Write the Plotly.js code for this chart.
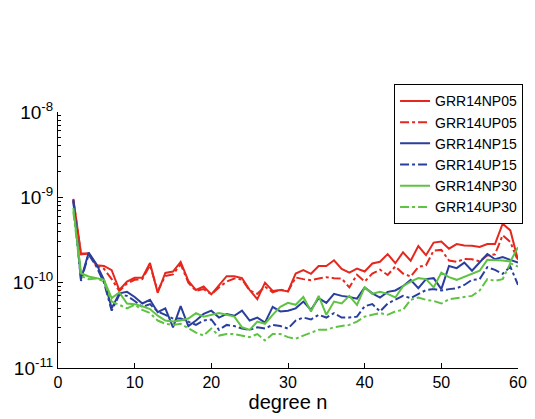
<!DOCTYPE html>
<html>
<head>
<meta charset="utf-8">
<script src="https://cdn.plot.ly/plotly-3.0.1.min.js"></script>
<style>html,body{margin:0;padding:0;background:#fff;}#chart{width:535px;height:419px;}</style>
</head>
<body>
<div id="chart"></div>
<script>
// degree n
const degrees = [2,3,4,5,6,7,8,9,10,11,12,13,14,15,16,17,18,19,20,21,22,23,24,25,26,27,28,29,30,31,32,33,34,35,36,37,38,39,40,41,42,43,44,45,46,47,48,49,50,51,52,53,54,55,56,57,58,59,60];

const GRR14NP05 = [9.6e-10,2.2e-10,2.2e-10,1.6e-10,1.57e-10,1.4e-10,0.82e-10,1.03e-10,1.14e-10,1.14e-10,1.7e-10,0.76e-10,1.3e-10,1.35e-10,1.75e-10,1.05e-10,0.82e-10,0.9e-10,0.73e-10,0.94e-10,1.19e-10,1.19e-10,1.13e-10,0.82e-10,0.64e-10,1.0e-10,0.8e-10,0.82e-10,0.79e-10,1.28e-10,1.4e-10,1.27e-10,1.57e-10,1.57e-10,1.83e-10,1.45e-10,1.31e-10,1.46e-10,1.35e-10,1.68e-10,1.76e-10,2.16e-10,1.69e-10,2.27e-10,1.81e-10,2.68e-10,2.1e-10,2.95e-10,3.04e-10,2.5e-10,2.83e-10,2.72e-10,2.7e-10,2.62e-10,2.83e-10,2.83e-10,4.9e-10,4.1e-10,1.85e-10];

const GRR14UP05 = [9.3e-10,2.15e-10,2.2e-10,1.6e-10,1.45e-10,1.1e-10,0.8e-10,0.98e-10,1.08e-10,1.1e-10,1.6e-10,0.8e-10,1.2e-10,1.25e-10,1.65e-10,1.0e-10,0.8e-10,0.84e-10,0.73e-10,0.88e-10,1.03e-10,1.12e-10,1.09e-10,0.81e-10,0.74e-10,0.9e-10,0.77e-10,0.83e-10,0.79e-10,1.15e-10,1.1e-10,1.07e-10,1.12e-10,1.16e-10,1.13e-10,1.12e-10,0.88e-10,1.24e-10,1.03e-10,1.28e-10,1.42e-10,1.23e-10,1.55e-10,1.28e-10,1.18e-10,1.53e-10,1.6e-10,2.38e-10,2.42e-10,1.82e-10,1.75e-10,1.9e-10,1.88e-10,1.78e-10,2.08e-10,2.15e-10,3.6e-10,3.0e-10,1.8e-10];

const GRR14NP15 = [9.4e-10,1.1e-10,2.25e-10,1.66e-10,1.08e-10,0.5e-10,0.75e-10,0.78e-10,0.68e-10,0.57e-10,0.63e-10,0.45e-10,0.5e-10,0.3e-10,0.53e-10,0.31e-10,0.36e-10,0.43e-10,0.47e-10,0.39e-10,0.43e-10,0.41e-10,0.47e-10,0.36e-10,0.39e-10,0.34e-10,0.52e-10,0.46e-10,0.47e-10,0.5e-10,0.6e-10,0.48e-10,0.66e-10,0.58e-10,0.74e-10,0.7e-10,0.68e-10,0.65e-10,0.88e-10,0.75e-10,0.67e-10,0.78e-10,0.81e-10,0.91e-10,1.08e-10,0.86e-10,1.1e-10,1.13e-10,0.84e-10,1.57e-10,1.48e-10,1.72e-10,1.38e-10,1.72e-10,2.17e-10,1.88e-10,1.99e-10,1.85e-10,1.72e-10];

const GRR14UP15 = [9.0e-10,1.05e-10,2.15e-10,1.55e-10,1.0e-10,0.47e-10,0.72e-10,0.7e-10,0.61e-10,0.52e-10,0.56e-10,0.46e-10,0.42e-10,0.38e-10,0.38e-10,0.35e-10,0.32e-10,0.36e-10,0.37e-10,0.28e-10,0.32e-10,0.31e-10,0.29e-10,0.28e-10,0.3e-10,0.29e-10,0.32e-10,0.31e-10,0.29e-10,0.36e-10,0.39e-10,0.37e-10,0.42e-10,0.39e-10,0.44e-10,0.39e-10,0.39e-10,0.4e-10,0.53e-10,0.56e-10,0.46e-10,0.57e-10,0.63e-10,0.7e-10,0.66e-10,0.74e-10,0.82e-10,0.84e-10,0.81e-10,0.84e-10,0.86e-10,0.94e-10,1.08e-10,1.1e-10,1.52e-10,1.41e-10,1.27e-10,1.54e-10,0.94e-10];

const GRR14NP30 = [7.5e-10,1.29e-10,1.18e-10,1.13e-10,1.08e-10,0.66e-10,0.77e-10,0.57e-10,0.56e-10,0.53e-10,0.49e-10,0.41e-10,0.36e-10,0.35e-10,0.36e-10,0.38e-10,0.44e-10,0.4e-10,0.42e-10,0.44e-10,0.42e-10,0.4e-10,0.3e-10,0.28e-10,0.35e-10,0.33e-10,0.42e-10,0.52e-10,0.58e-10,0.55e-10,0.68e-10,0.46e-10,0.7e-10,0.42e-10,0.6e-10,0.57e-10,0.7e-10,0.55e-10,0.88e-10,0.74e-10,0.78e-10,0.74e-10,0.67e-10,0.91e-10,1.03e-10,1.13e-10,1.1e-10,0.88e-10,1.31e-10,1.16e-10,1.08e-10,1.18e-10,1.27e-10,1.38e-10,1.85e-10,1.85e-10,1.82e-10,1.77e-10,2.6e-10];

const GRR14UP30 = [6.8e-10,1.2e-10,1.1e-10,1.12e-10,1.04e-10,0.6e-10,0.55e-10,0.5e-10,0.55e-10,0.48e-10,0.44e-10,0.36e-10,0.33e-10,0.32e-10,0.33e-10,0.29e-10,0.26e-10,0.24e-10,0.29e-10,0.24e-10,0.25e-10,0.25e-10,0.24e-10,0.23e-10,0.25e-10,0.21e-10,0.25e-10,0.25e-10,0.23e-10,0.22e-10,0.24e-10,0.26e-10,0.28e-10,0.28e-10,0.3e-10,0.31e-10,0.32e-10,0.35e-10,0.4e-10,0.42e-10,0.44e-10,0.42e-10,0.46e-10,0.48e-10,0.63e-10,0.67e-10,0.63e-10,0.61e-10,0.57e-10,0.64e-10,0.66e-10,0.67e-10,0.7e-10,0.81e-10,1.1e-10,1.05e-10,1.1e-10,1.69e-10,1.54e-10];

const seriesNames = ['GRR14NP05','GRR14UP05','GRR14NP15','GRR14UP15','GRR14NP30','GRR14UP30'];
const seriesValues = [GRR14NP05,GRR14UP05,GRR14NP15,GRR14UP15,GRR14NP30,GRR14UP30];

const yTickVals = [1e-11,1e-10,1e-9,1e-8];
const yTickText = ['10<sup>-11</sup>','10<sup>-10</sup>','10<sup>-9</sup>','10<sup>-8</sup>'];
const xTickVals = [0,10,20,30,40,50,60];

const colors = ['#e5281e','#e5281e','#2a3f9d','#2a3f9d','#5ec242','#5ec242'];
const dashes = ['solid','dashdot','solid','dashdot','solid','dashdot'];

const traces = seriesNames.map((name,i)=>({
  x: degrees, y: seriesValues[i], name: name, type: 'scatter', mode: 'lines',
  line: {color: colors[i], width: 2, dash: dashes[i]}
}));

const minorVals = [];
for (let e=-11; e<-8; e++) for (let m=2; m<10; m++) minorVals.push(m*Math.pow(10,e));

const font = {family: '"Liberation Sans", Arial, Helvetica, sans-serif', color: '#000', size: 16};

const layout = {
  width: 535, height: 419,
  margin: {l: 58, r: 12, t: 112, b: 51, pad: 0},
  paper_bgcolor: '#fff', plot_bgcolor: '#fff',
  font: font,
  showlegend: true,
  legend: {
    x: 1.011, y: 1.108, xanchor: 'right', yanchor: 'top',
    bordercolor: '#000', borderwidth: 1, bgcolor: '#fff',
    font: {family: font.family, size: 14, color: '#000'},
    tracegroupgap: 0, itemwidth: 30
  },
  xaxis: {
    range: [0, 60], tickvals: xTickVals, ticks: 'inside', ticklen: 5, tickcolor: '#000',
    showline: true, linecolor: '#000', linewidth: 1, showgrid: false, zeroline: false,
    tickfont: {size: 16}, mirror: false,
    title: {text: 'degree n', font: {size: 20}, standoff: 0}
  },
  yaxis: {
    type: 'log', range: [-11, -8], tickvals: yTickVals, ticktext: yTickText,
    ticks: 'inside', ticklen: 5, tickcolor: '#000',
    showline: true, linecolor: '#000', linewidth: 1, showgrid: false, zeroline: false,
    tickfont: {size: 19},
    minor: {tickvals: minorVals, ticks: 'inside', ticklen: 3, tickcolor: '#000', showgrid: false}
  }
};

Plotly.newPlot('chart', traces, layout, {displayModeBar: false, staticPlot: true});
</script>
</body>
</html>
